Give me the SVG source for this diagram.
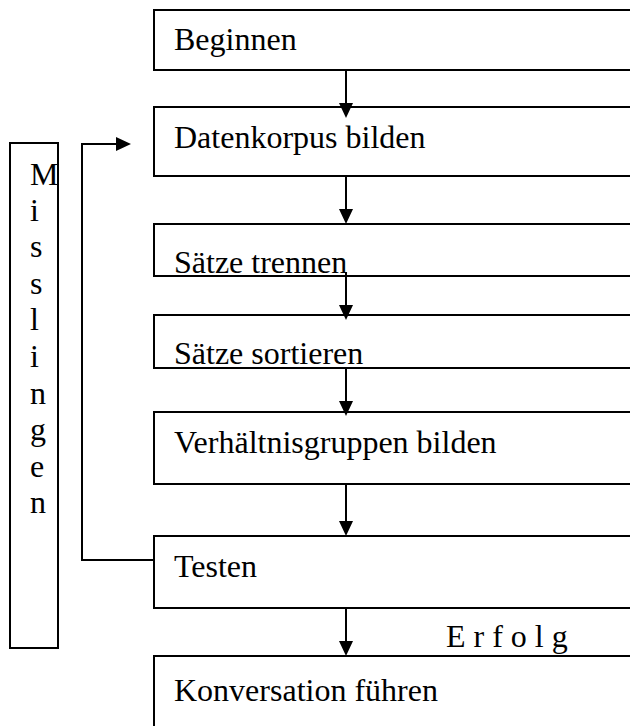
<svg xmlns="http://www.w3.org/2000/svg" width="630" height="726" viewBox="0 0 630 726">
  <style>
    .box { fill: #ffffff; stroke: #000000; stroke-width: 2; }
    .lbl { font-family: "Liberation Serif", "Times New Roman", serif; font-size: 32px; fill: #000000; }
    .conn { fill: none; stroke: #000000; stroke-width: 2; }
  </style>
  <defs>
    <marker id="arrow" markerUnits="userSpaceOnUse" markerWidth="15" markerHeight="15" refX="7" refY="7" orient="auto" viewBox="0 0 15 14">
      <path d="M0,0 L15,7 L0,14 Z" fill="#000000"/>
    </marker>
  </defs>
  <rect x="0" y="0" width="630" height="726" fill="#ffffff"/>

  <!-- process steps (boxes run past the right edge) -->
  <g id="node-beginnen">
    <rect class="box" x="154" y="10" width="560" height="60"/>
    <text class="lbl" x="174" y="50">Beginnen</text>
  </g>
  <g id="node-datenkorpus">
    <rect class="box" x="154" y="107" width="560" height="69"/>
    <text class="lbl" x="174" y="148">Datenkorpus bilden</text>
  </g>
  <g id="node-saetze-trennen">
    <rect class="box" x="154" y="224" width="560" height="52"/>
    <text class="lbl" x="174" y="273">Sätze trennen</text>
  </g>
  <g id="node-saetze-sortieren">
    <rect class="box" x="154" y="315" width="560" height="53"/>
    <text class="lbl" x="174" y="364">Sätze sortieren</text>
  </g>
  <g id="node-verhaeltnisgruppen">
    <rect class="box" x="154" y="412" width="560" height="72"/>
    <text class="lbl" x="174" y="453">Verhältnisgruppen bilden</text>
  </g>
  <g id="node-testen">
    <rect class="box" x="154" y="536" width="560" height="72"/>
    <text class="lbl" x="174" y="577">Testen</text>
  </g>
  <g id="node-konversation">
    <rect class="box" x="154" y="656" width="560" height="120"/>
    <text class="lbl" x="174" y="701">Konversation führen</text>
  </g>

  <!-- failure label, one letter per line -->
  <g id="node-misslingen">
    <rect class="box" x="10" y="143" width="48" height="505"/>
    <text class="lbl" x="30" y="185">M</text>
    <text class="lbl" x="30" y="221">i</text>
    <text class="lbl" x="30" y="257">s</text>
    <text class="lbl" x="30" y="294">s</text>
    <text class="lbl" x="30" y="330">l</text>
    <text class="lbl" x="30" y="367">i</text>
    <text class="lbl" x="30" y="404">n</text>
    <text class="lbl" x="30" y="440">g</text>
    <text class="lbl" x="30" y="477">e</text>
    <text class="lbl" x="30" y="513">n</text>
  </g>

  <!-- connectors -->
  <g id="connectors">
    <line class="conn" x1="346" y1="70" x2="346" y2="110" marker-end="url(#arrow)"/>
    <line class="conn" x1="346" y1="176" x2="346" y2="216" marker-end="url(#arrow)"/>
    <line class="conn" x1="346" y1="272" x2="346" y2="312" marker-end="url(#arrow)"/>
    <line class="conn" x1="346" y1="368" x2="346" y2="408" marker-end="url(#arrow)"/>
    <line class="conn" x1="346" y1="484" x2="346" y2="528" marker-end="url(#arrow)"/>
    <line class="conn" x1="346" y1="608" x2="346" y2="648" marker-end="url(#arrow)"/>
    <polyline class="conn" points="154,560 82,560 82,144 123,144" marker-end="url(#arrow)"/>
    <text class="lbl" x="446" y="647" letter-spacing="8">Erfolg</text>
  </g>
</svg>
